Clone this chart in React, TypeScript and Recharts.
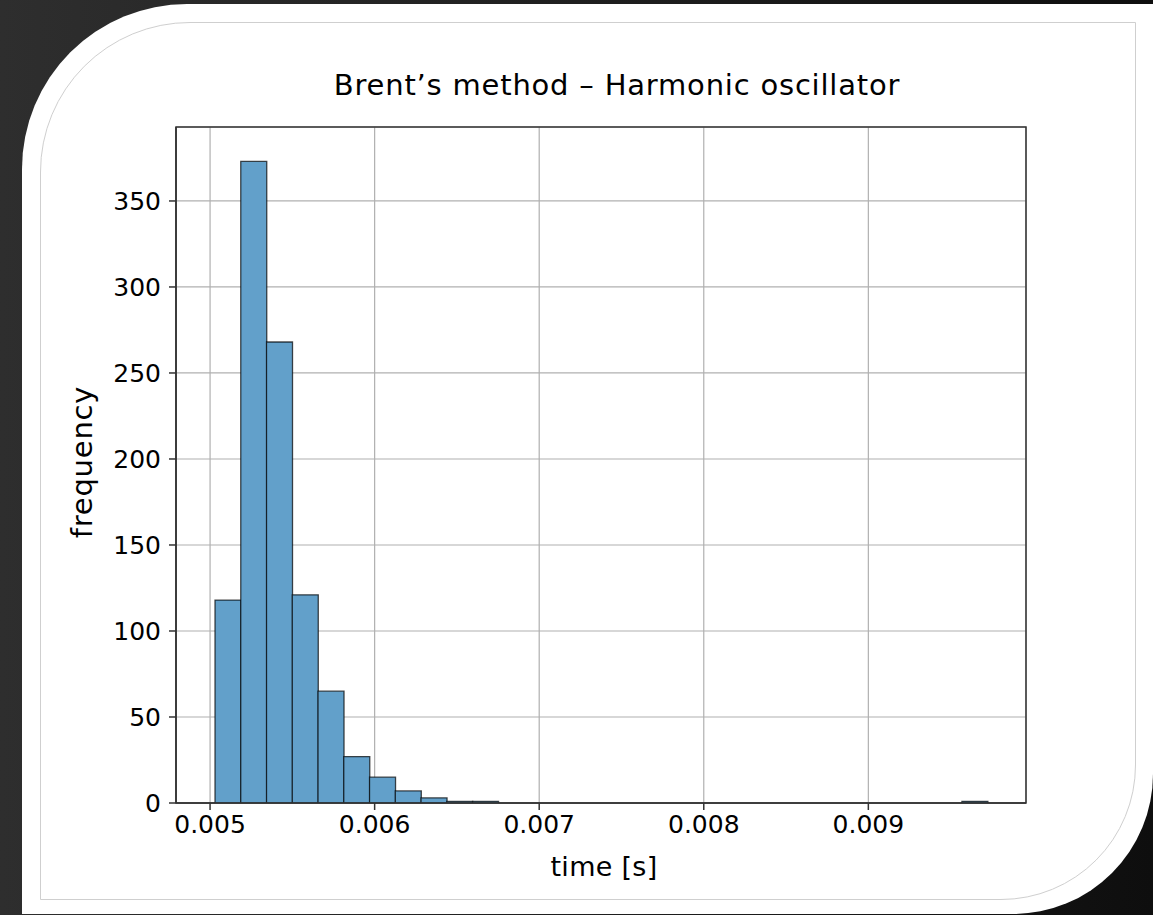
import { BarChart, Bar, XAxis, YAxis, CartesianGrid, ReferenceArea } from 'recharts'

// histogram of 1000 timings, 30 equal bins
const binCounts = [
  118, 373, 268, 121, 65, 27, 15, 7, 3, 1,
  1, 0, 0, 0, 0, 0, 0, 0, 0, 0,
  0, 0, 0, 0, 0, 0, 0, 0, 0, 1,
]
const binStart = 0.00503
const binWidth = 0.0001565
const xTicks = [0.005, 0.006, 0.007, 0.008, 0.009]
const yTicks = [0, 50, 100, 150, 200, 250, 300, 350]
const xDomain: [number, number] = [0.004793, 0.009958]
const yDomain: [number, number] = [0, 393]

const data = binCounts.map((count, i) => ({
  bin: i,
  mid: binStart + (i + 0.5) * binWidth,
  count,
}))

const W = 1153
const H = 915
const MARGIN = { top: 127, right: 127, bottom: 52, left: 106 }
const Y_AXIS_W = 70
const X_AXIS_H = 60
const PLOT_W = W - MARGIN.left - Y_AXIS_W - MARGIN.right

// keep the bin bands aligned with the numeric time axis
const span = xDomain[1] - xDomain[0]
const binEnd = binStart + binCounts.length * binWidth
const padLeft = ((binStart - xDomain[0]) / span) * PLOT_W
const padRight = ((xDomain[1] - binEnd) / span) * PLOT_W

const SPINE = '#333'
const TICK_FONT = { fontFamily: 'DejaVu Sans', fontSize: 25, fill: '#000' }
const LABEL_STYLE = {
  position: 'absolute' as const,
  fontFamily: "'DejaVu Sans', sans-serif",
  fontSize: 29,
  letterSpacing: 0.8,
  color: '#000',
  whiteSpace: 'nowrap' as const,
}

export default function App() {
  return (
    <div
      style={{
        position: 'absolute',
        left: 0,
        top: 0,
        width: W,
        height: H,
        overflow: 'hidden',
        background: 'linear-gradient(to right, #2e2e2e 0%, #1c1c1c 60%, #0e0e0e 100%)',
      }}
    >
      {/* slide card */}
      <div
        style={{
          position: 'absolute',
          left: 22,
          top: 4,
          right: 0,
          bottom: 1,
          background: '#fff',
          borderTopLeftRadius: 165,
          borderBottomRightRadius: 140,
        }}
      />
      <div
        style={{
          position: 'absolute',
          left: 40,
          top: 22,
          width: 1094,
          height: 876,
          border: '1px solid #cfcfcf',
          borderTopLeftRadius: 150,
          borderBottomRightRadius: 135,
        }}
      />

      <div style={{ position: 'absolute', left: 0, top: 0 }}>
        <BarChart
          width={W}
          height={H}
          data={data}
          margin={MARGIN}
          barCategoryGap={0}
          barGap={0}
        >
          <XAxis
            xAxisId="bin"
            dataKey="bin"
            type="category"
            hide
            height={0}
            padding={{ left: padLeft, right: padRight }}
          />
          <XAxis
            xAxisId="t"
            dataKey="mid"
            type="number"
            domain={xDomain}
            allowDataOverflow
            ticks={xTicks}
            interval={0}
            height={X_AXIS_H}
            tickFormatter={(v: number) => v.toFixed(3)}
            tick={TICK_FONT}
            tickSize={7}
            tickMargin={5}
            axisLine={{ stroke: SPINE, strokeWidth: 1.5 }}
            tickLine={{ stroke: SPINE, strokeWidth: 1.5 }}
          />
          <YAxis
            yAxisId="left"
            type="number"
            domain={yDomain}
            allowDataOverflow
            ticks={yTicks}
            interval={0}
            width={Y_AXIS_W}
            tick={TICK_FONT}
            tickSize={7}
            tickMargin={8}
            axisLine={{ stroke: SPINE, strokeWidth: 1.5 }}
            tickLine={{ stroke: SPINE, strokeWidth: 1.5 }}
          />
          <Bar
            xAxisId="bin"
            yAxisId="left"
            dataKey="count"
            fill="#62a0ca"
            stroke="rgba(0,0,0,0.7)"
            strokeWidth={1.3}
            isAnimationActive={false}
          />
          <CartesianGrid xAxisId="t" yAxisId="left" stroke="#b0b0b0" strokeWidth={1.2} />
          {/* axes frame (matplotlib spines) */}
          <ReferenceArea
            xAxisId="t"
            yAxisId="left"
            x1={xDomain[0]}
            x2={xDomain[1]}
            y1={yDomain[0]}
            y2={yDomain[1]}
            fill="none"
            fillOpacity={0}
            stroke={SPINE}
            strokeWidth={1.5}
            ifOverflow="visible"
          />
        </BarChart>
      </div>

      <div style={{ ...LABEL_STYLE, left: 0, width: 1234, top: 68, textAlign: 'center' }}>
        Brent’s method – Harmonic oscillator
      </div>
      <div
        style={{
          ...LABEL_STYLE,
          fontSize: 27,
          letterSpacing: 0.3,
          left: 0,
          width: 1208,
          top: 851,
          textAlign: 'center',
        }}
      >
        time [s]
      </div>
      <div
        style={{
          ...LABEL_STYLE,
          left: 82,
          top: 462,
          transform: 'translate(-50%, -50%) rotate(-90deg)',
        }}
      >
        frequency
      </div>
    </div>
  )
}
